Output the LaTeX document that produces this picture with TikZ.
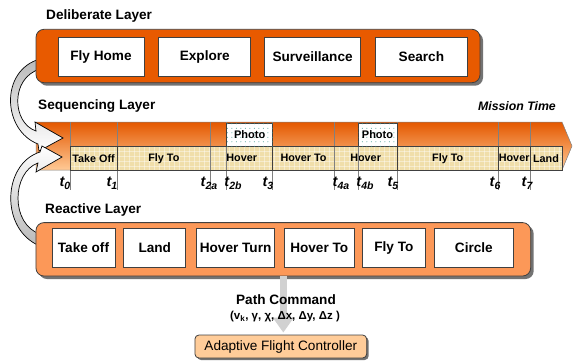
\documentclass[tikz,border=0pt]{standalone}
\usepackage{fontspec}
\setmainfont{Liberation Sans}
\setsansfont{Liberation Sans}
\usepackage{tikz}
\usetikzlibrary{
  arrows.meta,
  positioning,
  shadows,
  patterns
}
\definecolor{dorange}{RGB}{232,90,0}
\definecolor{rorange}{RGB}{252,152,88}
\definecolor{lorange}{RGB}{255,204,153}
\definecolor{ltan}{RGB}{240,222,170}
\definecolor{seqtop}{RGB}{228,88,0}
\definecolor{seqmid}{RGB}{243,138,58}
\definecolor{seqbot}{RGB}{255,202,150}
\definecolor{cdark}{RGB}{64,64,64}
\definecolor{cteal}{RGB}{60,150,140}
\definecolor{cgray}{RGB}{128,128,128}

\newcommand{\fsz}[1]{\fontsize{#1}{#1}\selectfont}
\newcommand{\tlab}[1]{t\raisebox{-3pt}{\fsz{10.5}#1}}

\pgfdeclarepatternformonly{photodots}{\pgfqpoint{-0.1pt}{-0.1pt}}{\pgfqpoint{4.6pt}{4.6pt}}{\pgfqpoint{4.5pt}{4.5pt}}
  {\pgfpathcircle{\pgfqpoint{2.25pt}{2.25pt}}{0.5pt}\pgfusepath{fill}}

\tikzset{
  layer/.style={
    rectangle, rounded corners=8pt,
    draw=cdark, line width=0.8pt,
    drop shadow={shadow xshift=3pt, shadow yshift=-3pt, fill=black!55, opacity=1},
    minimum height=53.4pt
  },
  delib/.style={layer, fill=dorange},
  react/.style={layer, fill=rorange},
  actbox/.style={
    rectangle, fill=white, draw=cdark, line width=0.8pt,
    minimum height=39pt, inner sep=1pt,
    font=\fsz{13.6}\bfseries
  },
  laytitle/.style={anchor=west, inner sep=0pt, font=\fsz{13.6}\bfseries},
  seglab/.style={inner sep=0pt, font=\fsz{10.8}\bfseries},
  photo/.style={
    rectangle, draw=cdark, line width=0.8pt, fill=white,
    postaction={pattern=photodots, pattern color=cteal},
    minimum height=23.4pt, inner sep=0pt,
    font=\fsz{11}\bfseries
  },
  tmline/.style={cgray, line width=0.6pt},
  divline/.style={cdark, line width=0.8pt},
  gridln/.style={white, line width=0.5pt, opacity=0.4},
  tlabel/.style={anchor=base, inner sep=0pt, font=\fsz{14.5}\bfseries\itshape},
  bendarr/.style={draw=black, line width=0.7pt},
  cmdarr/.style={-{Triangle[width=20pt,length=15pt]}, line width=7pt, color=black!18},
  ctrl/.style={
    rectangle, rounded corners=4pt,
    fill=lorange, draw=cdark, line width=0.8pt,
    drop shadow={shadow xshift=2pt, shadow yshift=-2pt, fill=black!55, opacity=1},
    minimum width=171.7pt, minimum height=23pt,
    font=\fsz{13.6}
  }
}

\begin{document}
\begin{tikzpicture}[x=1pt, y=-1pt, node distance=13.5pt]
  \useasboundingbox (0,0) rectangle (573,360);

    %% ---- Sequencing layer: mission time arrow ------------------------
    \path[draw=cgray, line width=0.5pt,
          top color=seqtop, middle color=seqmid, bottom color=seqbot]
      (36,122) -- (562,122) -- (572,146) -- (562,170) -- (36,170) -- cycle;

    \fill[ltan] (70,146.7) rectangle (562,170);
    \foreach \gx in {74,79,...,560}
      \draw[gridln] (\gx,146.7) -- (\gx,170);
    \foreach \gy in {151,156,...,168}
      \draw[gridln] (70,\gy) -- (562,\gy);

    \foreach \a/\b/\txt [count=\i] in {70/117/Take Off, 117/210.7/Fly To,
        210.7/272.7/Hover, 272.7/334.3/Hover To, 334.3/397/Hover,
        397/498.3/Fly To, 498.3/530/Hover, 530/562/Land}
      \node[seglab] (seg\i) at ({(\a+\b)/2},158.3) {\txt};

    \foreach \x/\lx/\s in {70/65/0, 117/112/1, 210.7/209/2a, 226.7/233/2b,
        272.7/268/3, 334.3/341/4a, 358/365/4b, 397/393/5,
        498.3/495/6, 530/527/7}{
      \draw[tmline] (\x,122) -- (\x,190);
      \node[tlabel] (t\s) at (\lx,186) {\tlab{\s}};
    }
    \foreach \x in {117,272.7,397,498.3,530}
      \draw[divline] (\x,146.7) -- (\x,170);
    \draw[divline] (70,146.7) rectangle (562,170);

    \node[photo, minimum width=46pt] (photo1) at (249.7,135) {Photo};
    \node[photo, minimum width=39pt] (photo2) at (377.5,135) {Photo};

    \node[laytitle] (seqtitle) at (38,106) {Sequencing Layer};
    \node[anchor=east, inner sep=0pt, font=\fsz{12.3}\bfseries\itshape]
      (mtime) at (556,106) {Mission Time};

    %% ---- Curved arrows into the sequencer --------------------------
    \path[bendarr, top color=gray!55, middle color=white, bottom color=white]
      (40,59) .. controls (0,70) and (2,130) .. (38,144) -- (39,151)
      -- (63,138) -- (35,122) -- (36,131)
      .. controls (12,123) and (10,78) .. (40,69) -- cycle;
    \path[bendarr, top color=white, middle color=white, bottom color=gray!55]
      (40,246) .. controls (0,230) and (2,164) .. (40,152) -- (42,146)
      -- (62,157) -- (36,172) -- (38,163)
      .. controls (12,172) and (10,224) .. (40,234) -- cycle;

    %% ---- Deliberate layer --------------------------------------------
    \node[laytitle] (deltitle) at (46,16) {Deliberate Layer};
    \node[delib, minimum width=444pt] (delib) at (258,56) {};
    \node[actbox, minimum width=86pt] (flyhome) at (101,56.5) {Fly Home};
    \node[actbox, minimum width=92pt, right=14pt of flyhome] (explore) {Explore};
    \node[actbox, minimum width=96pt, right=13pt of explore] (surv) {Surveillance};
    \node[actbox, minimum width=92pt, right=14pt of surv] (search) {Search};

    %% ---- Reactive layer ----------------------------------------------
    \node[laytitle] (reacttitle) at (45,210) {Reactive Layer};
    \node[react, minimum width=494.7pt] (react) at (283.3,249.3) {};
    \node[actbox, minimum width=63pt] (rtakeoff) at (83.5,247.8) {Take off};
    \node[actbox, minimum width=62pt, right=8pt of rtakeoff] (rland) {Land};
    \node[actbox, minimum width=78pt, right=10pt of rland] (rhturn) {Hover Turn};
    \node[actbox, minimum width=69.7pt, right=9pt of rhturn] (rhto) {Hover To};
    \node[actbox, minimum width=63.3pt, right=7.3pt of rhto] (rflyto) {Fly To};
    \node[actbox, minimum width=78.3pt, right=8.4pt of rflyto] (rcircle) {Circle};

    %% ---- Path command to the controller ------------------------------
    \node[ctrl] (ctrl) at (280.8,346.5) {Adaptive Flight Controller};
    \draw[cmdarr, shorten >=2pt] (react.south) -- (react.south |- ctrl.north);
    \node[inner sep=0pt, font=\fsz{13.6}\bfseries] (pcmd) at (286,300) {Path Command};
    \node[inner sep=0pt, font=\fsz{11.5}\bfseries] (pvars) at (285,316.7)
      {(v\textsubscript{k}, γ, χ, Δx, Δy, Δz )};

\end{tikzpicture}
\end{document}
